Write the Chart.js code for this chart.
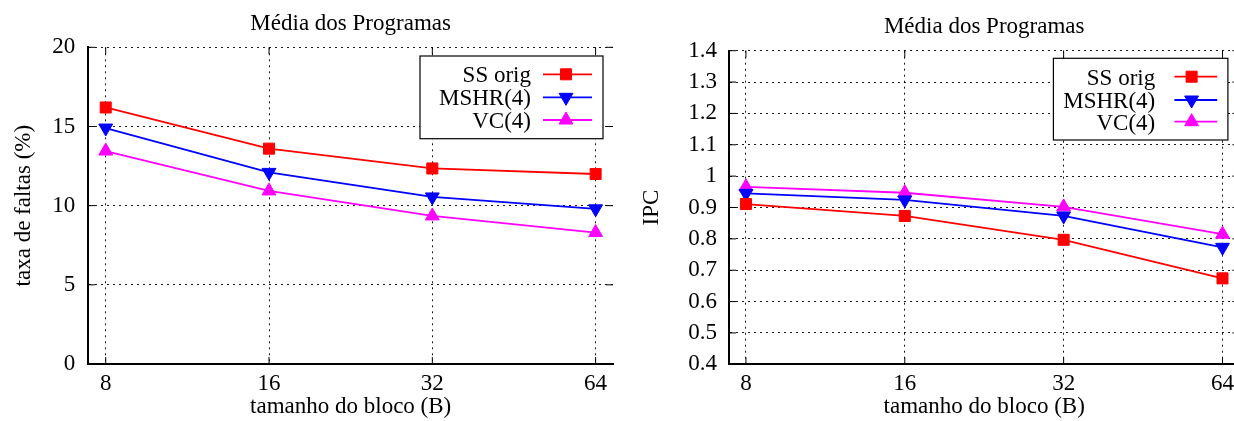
<!DOCTYPE html>
<html>
<head>
<meta charset="utf-8">
<title>Média dos Programas</title>
<script src="https://cdn.jsdelivr.net/npm/chart.js@4.4.1/dist/chart.umd.min.js"></script>
<style>
  html, body { margin: 0; padding: 0; background: #fff; overflow: hidden; }
  #wrap { position: relative; width: 1234px; height: 421px; overflow: hidden; background: #fff; }
  #wrap canvas { position: absolute; top: 0; }
  #missChart { left: 0; width: 620px; height: 421px; }
  #ipcChart { left: 620px; width: 620px; height: 421px; }
</style>
</head>
<body>
<div id="wrap">
  <canvas id="missChart" width="620" height="421"></canvas>
  <canvas id="ipcChart" width="620" height="421"></canvas>
</div>
<script>
// ---- data ----
const blockSizes = [8, 16, 32, 64];
const seriesNames = ['SS orig', 'MSHR(4)', 'VC(4)'];

// miss rate (%) per block size
const missSSOrig = [16.2, 13.6, 12.35, 12.0];
const missMSHR4  = [14.9, 12.1, 10.55, 9.8];
const missVC4    = [13.45, 10.93, 9.35, 8.3];

// IPC per block size
const ipcSSOrig = [0.911, 0.873, 0.797, 0.674];
const ipcMSHR4  = [0.945, 0.924, 0.873, 0.773];
const ipcVC4    = [0.966, 0.947, 0.902, 0.815];

const missTicks = [0, 5, 10, 15, 20];
const ipcTicks  = [0.4, 0.5, 0.6, 0.7, 0.8, 0.9, 1.0, 1.1, 1.2, 1.3, 1.4];

const chartTitle = 'Média dos Programas';
const xAxisTitle = 'tamanho do bloco (B)';
const missAxisTitle = 'taxa de faltas (%)';
const ipcAxisTitle = 'IPC';

// ---- styling ----
const FONT = "'Liberation Serif', 'Times New Roman', serif";
const FSIZE = 23;
const seriesStyle = [
  { color: '#ff0000', pointStyle: 'rect',     rotation: 0,   radius: 7.8 },
  { color: '#0000ff', pointStyle: 'triangle', rotation: 180, radius: 8 },
  { color: '#ff00ff', pointStyle: 'triangle', rotation: 0,   radius: 8 }
];

function makeDatasets(seriesValues) {
  return seriesValues.map((vals, i) => {
    const st = seriesStyle[i];
    return {
      label: seriesNames[i],
      data: blockSizes.map((b, j) => ({ x: b, y: vals[j] })),
      borderColor: st.color,
      backgroundColor: st.color,
      borderWidth: 1.8,
      pointStyle: st.pointStyle,
      pointRotation: st.rotation,
      pointRadius: st.radius,
      pointHoverRadius: st.radius,
      pointBackgroundColor: st.color,
      pointBorderColor: st.color,
      pointBorderWidth: 1,
      tension: 0,
      fill: false
    };
  });
}

// small inward tick marks on all four sides (gnuplot style)
const innerTicks = {
  id: 'innerTicks',
  beforeDatasetsDraw(chart, args, opts) {
    const { ctx, chartArea: a, scales } = chart;
    const len = opts.length || 7;
    ctx.save();
    ctx.strokeStyle = '#000';
    ctx.lineWidth = 1;
    ctx.setLineDash([]);
    ctx.beginPath();
    scales.x.ticks.forEach(t => {
      const px = scales.x.getPixelForValue(t.value);
      ctx.moveTo(px, a.bottom); ctx.lineTo(px, a.bottom - len);
      ctx.moveTo(px, a.top);    ctx.lineTo(px, a.top + len);
    });
    scales.y.ticks.forEach(t => {
      const py = scales.y.getPixelForValue(t.value);
      ctx.moveTo(a.left, py);  ctx.lineTo(a.left + len, py);
      ctx.moveTo(a.right, py); ctx.lineTo(a.right - len, py);
    });
    ctx.stroke();
    ctx.restore();
  }
};

// title above the plot and boxed key in the upper right corner
const frameDecor = {
  id: 'frameDecor',
  afterDraw(chart, args, opts) {
    const { ctx, chartArea: a } = chart;
    ctx.save();
    ctx.font = FSIZE + 'px ' + FONT;
    ctx.fillStyle = '#000';
    ctx.textAlign = 'center';
    ctx.textBaseline = 'alphabetic';
    ctx.fillText(opts.title, (a.left + a.right) / 2, a.top - opts.titleGap);

    const k = opts.key;
    const bx = a.right - k.inset - k.width;
    const by = a.top + k.top;
    const right = bx + k.width;
    ctx.fillStyle = '#fff';
    ctx.fillRect(bx, by, k.width, k.height);
    ctx.strokeStyle = '#000';
    ctx.lineWidth = 1.2;
    ctx.strokeRect(bx, by, k.width, k.height);

    chart.data.datasets.forEach((ds, i) => {
      const ry = by + k.rows[i];
      ctx.fillStyle = '#000';
      ctx.textAlign = 'right';
      ctx.fillText(ds.label, right - k.textRight, ry + k.baseline);
      ctx.strokeStyle = ds.borderColor;
      ctx.lineWidth = ds.borderWidth;
      ctx.beginPath();
      ctx.moveTo(right - k.lineFrom, ry);
      ctx.lineTo(right - k.lineTo, ry);
      ctx.stroke();
      ctx.fillStyle = ds.pointBackgroundColor;
      ctx.strokeStyle = ds.pointBorderColor;
      ctx.lineWidth = ds.pointBorderWidth;
      Chart.helpers.drawPoint(ctx, {
        pointStyle: ds.pointStyle,
        rotation: ds.pointRotation,
        radius: ds.pointRadius,
        borderWidth: ds.pointBorderWidth
      }, right - k.marker, ry);
    });
    ctx.restore();
  }
};

function buildChart(canvasId, cfg) {
  const gridCommon = {
    color: 'rgba(0,0,0,0.9)',
    lineWidth: 1,
    drawTicks: false,
    drawOnChartArea: true
  };
  return new Chart(document.getElementById(canvasId), {
    type: 'line',
    data: { datasets: makeDatasets(cfg.series) },
    options: {
      responsive: false,
      animation: false,
      devicePixelRatio: 1,
      layout: { padding: cfg.padding, autoPadding: false },
      plugins: {
        legend: { display: false },
        tooltip: { enabled: false },
        title: { display: false },
        innerTicks: { length: 7 },
        frameDecor: { title: chartTitle, titleGap: cfg.titleGap, key: cfg.key }
      },
      scales: {
        x: {
          type: 'logarithmic',
          min: 7.43,
          max: 68.9,
          afterBuildTicks: s => { s.ticks = blockSizes.map(v => ({ value: v })); },
          afterFit: s => { s.height = cfg.xHeight; },
          ticks: {
            autoSkip: false,
            maxRotation: 0,
            padding: 6,
            color: '#000',
            font: { family: FONT, size: FSIZE },
            callback: v => String(v)
          },
          grid: gridCommon,
          border: { display: true, color: '#000', width: 2, dash: [2, 4] },
          title: {
            display: true, text: xAxisTitle, color: '#000',
            font: { family: FONT, size: FSIZE },
            padding: { top: 0, bottom: 0 }
          }
        },
        y: {
          type: 'linear',
          min: cfg.yTicks[0],
          max: cfg.yTicks[cfg.yTicks.length - 1],
          afterBuildTicks: s => { s.ticks = cfg.yTicks.map(v => ({ value: v })); },
          afterFit: s => { s.width = cfg.yWidth; },
          ticks: {
            padding: cfg.yTickPad,
            color: '#000',
            font: { family: FONT, size: FSIZE },
            callback: v => String(+Number(v).toFixed(1))
          },
          grid: gridCommon,
          border: { display: true, color: '#000', width: 2, dash: [2, 4] },
          title: {
            display: true, text: cfg.yTitle, color: '#000',
            font: { family: FONT, size: FSIZE },
            padding: { top: 10, bottom: 0 }
          }
        }
      }
    },
    plugins: [innerTicks, frameDecor]
  });
}

buildChart('missChart', {
  series: [missSSOrig, missMSHR4, missVC4],
  yTicks: missTicks,
  yTitle: missAxisTitle,
  padding: { left: 0, right: 7, top: 47.3, bottom: 0 },
  yWidth: 88.3,
  xHeight: 57,
  yTickPad: 13,
  titleGap: 17.3,
  key: { inset: 10, top: 8.7, width: 183, height: 82.7, rows: [18.3, 41.3, 64],
         baseline: 8, textRight: 72, lineFrom: 60, lineTo: 11, marker: 37 }
});

buildChart('ipcChart', {
  series: [ipcSSOrig, ipcMSHR4, ipcVC4],
  yTicks: ipcTicks,
  yTitle: ipcAxisTitle,
  padding: { left: 8.5, right: 0, top: 50.7, bottom: 0 },
  yWidth: 100.5,
  xHeight: 56.7,
  yTickPad: 12,
  titleGap: 18,
  key: { inset: 11.5, top: 7.6, width: 174.5, height: 81.7, rows: [18.4, 41.7, 63.4],
         baseline: 8, textRight: 72.7, lineFrom: 53.5, lineTo: 10.7, marker: 36.3 }
});
</script>
</body>
</html>
